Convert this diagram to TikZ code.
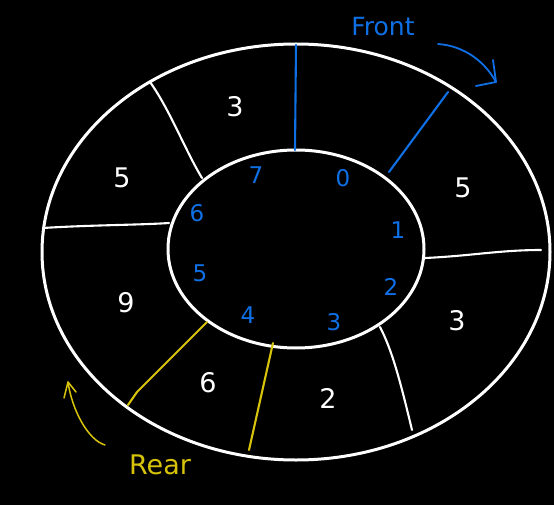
\documentclass[tikz,border=0pt]{standalone}
\usepackage{fontspec}
\setmainfont{DejaVu Sans}
\usetikzlibrary{arrows.meta}
\definecolor{qblue}{RGB}{15,112,230}
\definecolor{qyellow}{RGB}{215,195,10}
\tikzset{
  ring/.style={draw=white,line width=3pt},
  wdiv/.style={draw=white,line width=2.1pt,line cap=round},
  bdiv/.style={draw=qblue,line width=2.1pt,line cap=round},
  ydiv/.style={draw=qyellow,line width=2.1pt,line cap=round},
  val/.style={text=white,font=\fontsize{27}{27}\selectfont},
  idx/.style={text=qblue,font=\fontsize{23}{23}\selectfont},
}
\begin{document}
\begin{tikzpicture}[x=1pt,y=-1pt]
\fill[black] (0,0) rectangle (554,505);
\useasboundingbox (0,0) rectangle (554,505);
% rings
\draw[ring] (296,252) ellipse [x radius=254, y radius=208];
\draw[ring] (296,249) ellipse [x radius=128, y radius=99];
% divider coordinates
\coordinate (i0) at (295,150); \coordinate (o0) at (296,45);
\coordinate (i1) at (389,172); \coordinate (o1) at (448,92);
\coordinate (i2) at (425,258); \coordinate (o2) at (541,250);
\coordinate (i3) at (380,327); \coordinate (o3) at (412,430);
\coordinate (i4) at (273,343); \coordinate (o4) at (249,450);
\coordinate (i5) at (207,322); \coordinate (o5) at (128,405);
\coordinate (i6) at (169,223); \coordinate (o6) at (43,228);
\coordinate (i7) at (202,178); \coordinate (o7) at (150,82);
\draw[bdiv] (i0) -- (o0);
\draw[bdiv] (i1) -- (o1);
\draw[wdiv] (i2) .. controls (470,256) and (500,250) .. (o2);
\draw[wdiv] (i3) .. controls (392,350) and (400,380) .. (o3);
\draw[ydiv] (i4) -- (o4);
\draw[ydiv] (i5) -- (137,392) .. controls (133,398) .. (o5);
\draw[wdiv] (i6) .. controls (140,225) and (90,225) .. (o6);
\draw[wdiv] (i7) .. controls (185,150) and (170,110) .. (o7);
% values
\node[val] (v0) at (235,107) {3};
\node[val] (v1) at (463,188) {5};
\node[val] (v2) at (457,321) {3};
\node[val] (v3) at (328,398) {2};
\node[val] (v4) at (208,383) {6};
\node[val] (v5) at (126,303) {9};
\node[val] (v6) at (122,178) {5};
% indices
\node[idx] (n7) at (256,175) {7};
\node[idx] (n0) at (343,178) {0};
\node[idx] (n1) at (398,230) {1};
\node[idx] (n2) at (391,287) {2};
\node[idx] (n3) at (334,322) {3};
\node[idx] (n4) at (248,315) {4};
\node[idx] (n5) at (200,273) {5};
\node[idx] (n6) at (197,213) {6};
% front
\node[text=qblue,font=\fontsize{25}{25}\selectfont] (front) at (383,27) {Front};
\coordinate (fa) at (438,44);
\coordinate (fb) at (496,82);
\draw[qblue,line width=1.8pt,line cap=round] (fa) .. controls (465,46) and (485,62) .. (fb);
\draw[qblue,line width=1.8pt,line cap=round,line join=round] (493,60) -- (496,82) -- (476,86);
% rear
\node[text=qyellow,font=\fontsize{27}{27}\selectfont] (rear) at (160,465) {Rear};
\coordinate (ra) at (105,445);
\coordinate (rb) at (68,382);
\draw[qyellow,line width=1.5pt,line cap=round] (ra) .. controls (88,440) and (72,410) .. (rb);
\draw[qyellow,line width=1.5pt,line cap=round,line join=round] (64,398) -- (68,382) -- (76,392);
\end{tikzpicture}
\end{document}
